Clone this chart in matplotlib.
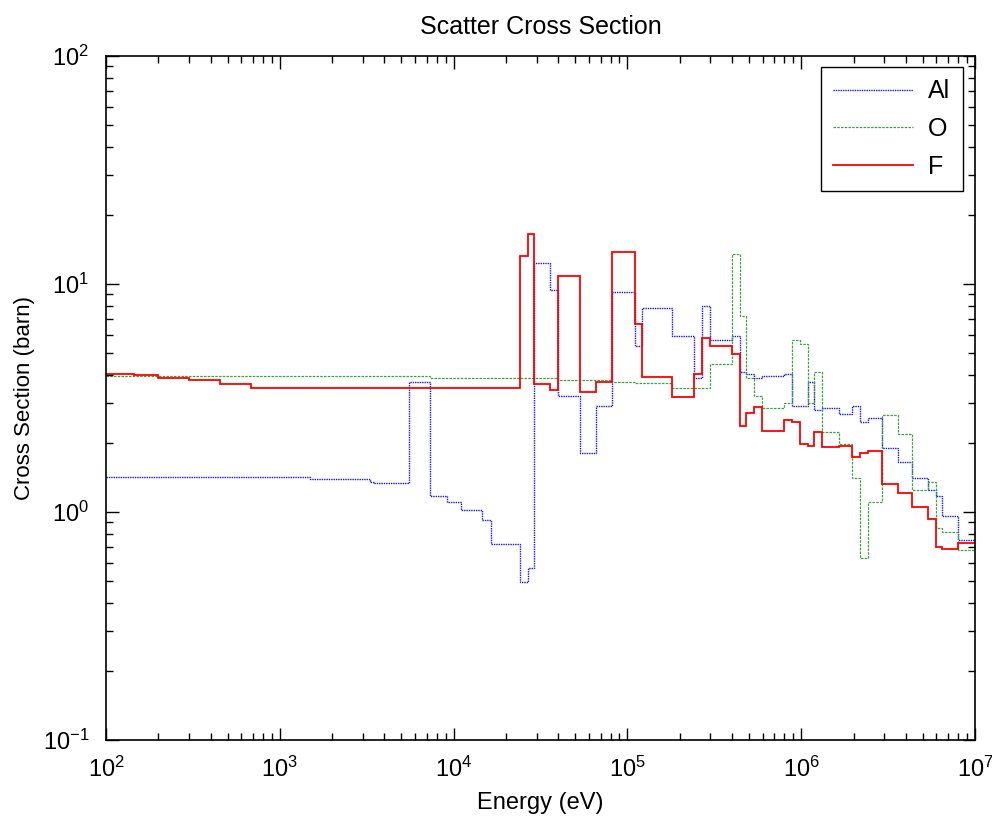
import matplotlib.pyplot as plt
import numpy as np

plt.rcParams['font.family'] = ['Liberation Sans', 'DejaVu Sans']
plt.rcParams['mathtext.default'] = 'regular'

# group boundaries (eV)
edges = [1.0e2, 1.45e2, 2.0e2, 3.0e2, 4.5e2, 6.8e2, 1.5e3, 3.3e3, 3.5e3, 5.5e3,
         7.3e3, 9.1e3, 1.1e4, 1.46e4, 1.63e4, 2.42e4, 2.69e4, 2.91e4, 3.6e4, 4.0e4,
         5.36e4, 6.62e4, 8.19e4, 1.1e5, 1.22e5, 1.81e5, 2.43e5, 2.7e5, 3.0e5, 4.0e5,
         4.46e5, 4.83e5, 5.37e5, 5.97e5, 8.0e5, 8.89e5, 9.88e5, 1.1e6, 1.19e6, 1.32e6,
         1.64e6, 1.97e6, 2.19e6, 2.43e6, 2.93e6, 3.62e6, 4.36e6, 5.39e6, 5.99e6, 6.49e6,
         8.0e6, 1.0e7]

# scatter cross sections per group (barn)
xs_al = [1.42, 1.42, 1.42, 1.42, 1.42, 1.42, 1.39, 1.36, 1.34, 3.73,
         1.18, 1.11, 1.02, 0.925, 0.726, 0.495, 0.57, 12.3, 9.44, 3.24,
         1.81, 2.93, 9.25, 5.36, 7.87, 5.93, 3.88, 8.03, 5.7, 5.93,
         4.13, 4.04, 3.88, 3.96, 4.04, 2.93, 2.93, 3.73, 2.81, 2.87,
         2.70, 2.93, 2.49, 2.59, 1.91, 1.66, 1.41, 1.25, 1.18, 0.96,
         0.756]
xs_o = [3.96, 3.96, 3.96, 3.96, 3.96, 3.96, 3.96, 3.96, 3.96, 3.96,
        3.88, 3.88, 3.88, 3.88, 3.88, 3.88, 3.88, 3.88, 3.88, 3.81,
        3.81, 3.81, 3.73, 3.66, 3.66, 3.51, 3.51, 3.51, 4.47, 13.6,
        7.26, 3.88, 3.24, 2.87, 3.0, 5.7, 5.47, 3.0, 4.13, 2.25,
        1.99, 1.41, 0.63, 1.11, 2.65, 2.2, 1.25, 1.36, 0.85, 0.82,
        0.68]
xs_f = [4.03, 3.98, 3.88, 3.80, 3.65, 3.51, 3.51, 3.51, 3.51, 3.51,
        3.51, 3.51, 3.51, 3.51, 3.51, 13.3, 16.6, 3.65, 3.43, 10.87,
        3.37, 3.72, 13.86, 6.7, 3.9, 3.18, 4.04, 5.81, 5.36, 4.94,
        2.39, 2.71, 2.88, 2.27, 2.53, 2.49, 1.99, 1.95, 2.25, 1.92,
        1.95, 1.74, 1.81, 1.85, 1.33, 1.21, 1.05, 0.93, 0.70, 0.686,
        0.73]

fig = plt.figure(figsize=(9.92, 8.22), dpi=100)
ax = fig.add_axes([0.1069, 0.0998, 0.876, 0.8321])

ax.stairs(xs_al, edges, baseline=None, color='#1010ff', linestyle=(0, (1, 0.7)),
          linewidth=1.0, label='Al')
ax.stairs(xs_o, edges, baseline=None, color='#3aa03a', linestyle=(0, (2, 1)),
          linewidth=0.9, label='O')
ax.stairs(xs_f, edges, baseline=None, color='#ff0000', linestyle='-',
          linewidth=1.3, label='F')

ax.set_xscale('log')
ax.set_yscale('log')
ax.set_xlim(1e2, 1e7)
ax.set_ylim(1e-1, 1e2)

ax.tick_params(which='both', direction='in', top=True, right=True, labelsize=17, width=1.0)
ax.tick_params(which='major', length=9, pad=12)
ax.tick_params(which='minor', length=5)
for s in ax.spines.values():
    s.set_linewidth(1.2)

ax.set_title('Scatter Cross Section', fontsize=18, pad=16)
ax.set_xlabel('Energy (eV)', fontsize=17, labelpad=7)
ax.set_ylabel('Cross Section (barn)', fontsize=16, labelpad=6)

leg = ax.legend(loc='upper right', bbox_to_anchor=(0.986, 0.984), borderaxespad=0,
                fontsize=18, handlelength=3.2, handletextpad=0.6, labelspacing=0.55,
                borderpad=0.5, fancybox=False, framealpha=1, edgecolor='black')
leg.get_frame().set_linewidth(1.0)

fig.savefig('out.png', dpi=100)
